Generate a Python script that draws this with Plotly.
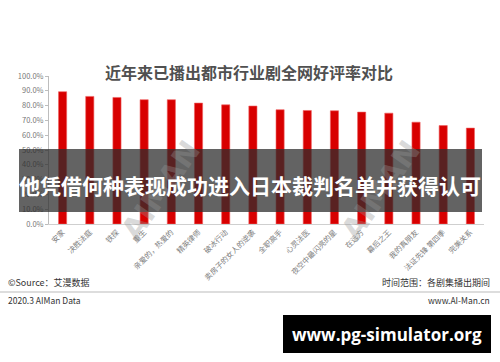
import plotly.graph_objects as go

categories = ["安家", "决胜法庭", "铁探", "重生", "亲爱的，热爱的", "精英律师", "破冰行动",
              "卖房子的女人的逆袭", "全职高手", "心灵法医", "夜空中最闪亮的星", "在远方",
              "幕后之王", "我的真朋友", "法证先锋 第四季", "完美关系"]
ratings = [0.894, 0.862, 0.855, 0.840, 0.840, 0.817, 0.805, 0.797,
           0.772, 0.767, 0.765, 0.756, 0.749, 0.688, 0.665, 0.648]

title_text = "近年来已播出都市行业剧全网好评率对比"
overlay_text = "他凭借何种表现成功进入日本裁判名单并获得认可"

font_family = "Noto Sans CJK SC, Noto Sans, sans-serif"

fig = go.Figure()
fig.add_trace(go.Bar(
    x=categories, y=ratings,
    marker=dict(color="#d80000", line=dict(color="#f06060", width=0.6)),
    hoverinfo="x+y",
))

W, H = 500, 362
L, R, T, B = 49, 16, 76, 138
pw, ph = W - L - R, H - T - B

fig.update_layout(
    width=W, height=H,
    margin=dict(l=L, r=R, t=T, b=B),
    paper_bgcolor="white", plot_bgcolor="white",
    bargap=0.7,
    showlegend=False,
    font=dict(family=font_family, color="#777"),
    xaxis=dict(
        tickangle=-45, tickfont=dict(size=7.5, color="#808080"),
        showline=True, linecolor="#cfcfcf", linewidth=1,
        ticks="", showgrid=False, fixedrange=True,
    ),
    yaxis=dict(
        range=[0, 1.0], dtick=0.1, tickformat=".1%",
        tickfont=dict(size=7.5, color="#777"),
        showline=True, linecolor="#bdbdbd", linewidth=1,
        ticks="outside", ticklen=3, tickcolor="#bdbdbd",
        showgrid=False, zeroline=False, fixedrange=True,
    ),
)


def px(x):
    return (x - L) / pw


def py(y):
    return (H - B - y) / ph


anns = [
    dict(text="<b>" + title_text + "</b>", x=px(249), y=py(72), xanchor="center", yanchor="middle",
         font=dict(size=16, color="#505050")),
    dict(text="<b>AIMAN</b>", x=px(160), y=py(190), textangle=-55, xanchor="center", yanchor="middle",
         font=dict(size=30, color="rgba(150,150,150,0.35)", family="DejaVu Sans")),
    dict(text="<b>AIMAN</b>", x=px(380), y=py(190), textangle=-55, xanchor="center", yanchor="middle",
         font=dict(size=30, color="rgba(150,150,150,0.35)", family="DejaVu Sans")),
    dict(text="<b>" + overlay_text + "</b>", x=px(250), y=py(185), xanchor="center", yanchor="middle",
         font=dict(size=21, color="white")),
    dict(text="©Source：艾漫数据", x=px(6), y=py(282), xanchor="left", yanchor="middle",
         font=dict(size=9, color="#333")),
    dict(text="时间范围：各剧集播出期间", x=px(492), y=py(282), xanchor="right", yanchor="middle",
         font=dict(size=9, color="#333")),
    dict(text="2020.3 AIMan Data", x=px(6), y=py(300), xanchor="left", yanchor="middle",
         font=dict(size=8.5, color="#333")),
    dict(text="www.AI-Man.cn", x=px(492), y=py(300), xanchor="right", yanchor="middle",
         font=dict(size=8.5, color="#333")),
    dict(text="<b>www.pg-simulator.org</b>", x=px(387), y=py(334), xanchor="center", yanchor="middle",
         font=dict(size=17, color="white", family="Open Sans, DejaVu Sans, sans-serif")),
]
for a in anns:
    a.update(xref="paper", yref="paper", showarrow=False)

shapes = [
    dict(type="rect", x0=px(19), x1=px(482), y0=py(212), y1=py(149),
         fillcolor="rgba(45,45,45,0.74)", line=dict(width=0), layer="above"),
    dict(type="line", x0=px(0), x1=px(500), y0=py(292), y1=py(292),
         line=dict(color="#bbbbbb", width=1)),
    dict(type="rect", x0=px(283), x1=px(491), y0=py(353), y1=py(315),
         fillcolor="black", line=dict(width=0)),
]
for s in shapes:
    s.update(xref="paper", yref="paper")

fig.update_layout(annotations=anns, shapes=shapes)

fig.write_html("out.html", config={"displayModeBar": False},
               post_script="document.body.style.margin='0';document.body.style.overflow='hidden';")
